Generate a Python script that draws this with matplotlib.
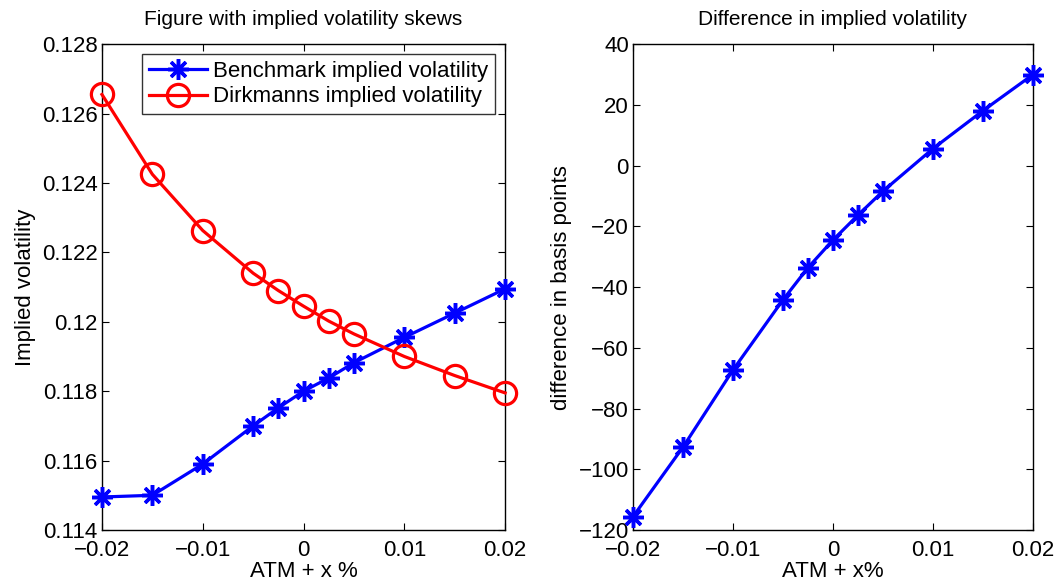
import matplotlib
matplotlib.use('Agg')
import matplotlib.pyplot as plt

plt.rcParams['font.family'] = ['Liberation Sans', 'DejaVu Sans']

# strike offsets around ATM
moneyness = [-0.02, -0.015, -0.01, -0.005, -0.0025, 0.0, 0.0025, 0.005, 0.01, 0.015, 0.02]
benchmark_vol = [0.11495, 0.11500, 0.11590, 0.11700, 0.11752, 0.11800,
                 0.11838, 0.11882, 0.11955, 0.12025, 0.12095]
dirkmanns_vol = [0.12655, 0.12425, 0.12263, 0.12140, 0.12090, 0.12045,
                 0.12002, 0.11965, 0.11900, 0.11845, 0.11795]
diff_bp = [-115.6, -92.7, -67.3, -44.2, -33.6, -24.5, -16.3, -8.4, 5.6, 18.1, 30.0]

FS = 16
ASTER = (8, 2, 0)

fig = plt.figure(figsize=(10.61, 5.86), dpi=100)
ax1 = fig.add_axes([0.0961, 0.0956, 0.380, 0.829])
ax2 = fig.add_axes([0.5966, 0.0956, 0.377, 0.829])

ax1.plot(moneyness, benchmark_vol, color='#0000ff', lw=2.3, marker=ASTER,
         ms=15, mew=2.5, label='Benchmark implied volatility', clip_on=False, zorder=3)
ax1.plot(moneyness, dirkmanns_vol, color='#ff0000', lw=2.3, marker='o',
         ms=16, mew=2.3, mfc='none', label='Dirkmanns implied volatility', clip_on=False, zorder=3)
ax1.set_xlim(-0.02, 0.02)
ax1.set_ylim(0.114, 0.128)
ax1.set_xticks([-0.02, -0.01, 0, 0.01, 0.02])
ax1.set_xticklabels(['\u22120.02', '\u22120.01', '0', '0.01', '0.02'])
ax1.set_yticks([0.114, 0.116, 0.118, 0.12, 0.122, 0.124, 0.126, 0.128])
ax1.set_yticklabels(['0.114', '0.116', '0.118', '0.12', '0.122', '0.124', '0.126', '0.128'])
ax1.set_title('Figure with implied volatility skews', fontsize=15, pad=14)
ax1.set_xlabel('ATM + x %', fontsize=FS, labelpad=0)
ax1.set_ylabel('Implied volatility', fontsize=FS, labelpad=4)
leg = ax1.legend(loc='upper right', fontsize=16, frameon=True, fancybox=False,
                 edgecolor='black', borderpad=0.3, handlelength=2.6,
                 handletextpad=0.3, labelspacing=0.2, borderaxespad=0.45)
leg.get_frame().set_linewidth(1.0)

ax2.plot(moneyness, diff_bp, color='#0000ff', lw=2.3, marker=ASTER,
         ms=15, mew=2.5, clip_on=False, zorder=3)
ax2.set_xlim(-0.02, 0.02)
ax2.set_ylim(-120, 40)
ax2.set_xticks([-0.02, -0.01, 0, 0.01, 0.02])
ax2.set_xticklabels(['\u22120.02', '\u22120.01', '0', '0.01', '0.02'])
ax2.set_yticks(range(-120, 41, 20))
ax2.set_title('Difference in implied volatility', fontsize=15, pad=14)
ax2.set_xlabel('ATM + x%', fontsize=FS, labelpad=0)
ax2.set_ylabel('difference in basis points', fontsize=FS, labelpad=5)

for ax in (ax1, ax2):
    ax.tick_params(direction='in', length=5, labelsize=FS, top=True, right=True, pad=3)
    ax.tick_params(axis='x', pad=7)
    for s in ax.spines.values():
        s.set_linewidth(1.0)

fig.savefig('out.png', dpi=100)
